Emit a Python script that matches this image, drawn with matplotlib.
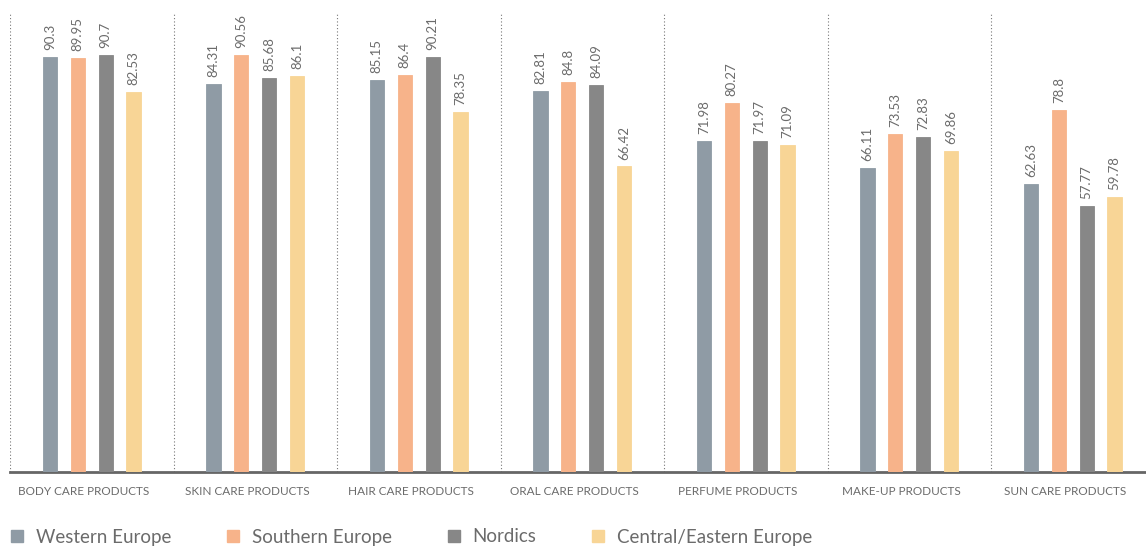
import numpy as np
import matplotlib
matplotlib.use("Agg")
import matplotlib.pyplot as plt
import matplotlib.transforms as mtransforms
from matplotlib.lines import Line2D

plt.rcParams['font.family'] = ['Lato', 'DejaVu Sans']

categories = ['BODY CARE PRODUCTS', 'SKIN CARE PRODUCTS', 'HAIR CARE PRODUCTS',
              'ORAL CARE PRODUCTS', 'PERFUME PRODUCTS', 'MAKE-UP PRODUCTS',
              'SUN CARE PRODUCTS']
series_names = ['Western Europe', 'Southern Europe', 'Nordics', 'Central/Eastern Europe']
western = [90.3, 84.31, 85.15, 82.81, 71.98, 66.11, 62.63]
southern = [89.95, 90.56, 86.4, 84.8, 80.27, 73.53, 78.8]
nordics = [90.7, 85.68, 90.21, 84.09, 71.97, 72.83, 57.77]
central = [82.53, 86.1, 78.35, 66.42, 71.09, 69.86, 59.78]
colors = ['#8f9ba5', '#f7b38a', '#878787', '#f8d596']

text_col = '#6b6b6b'

fig = plt.figure(figsize=(11.46, 5.46), dpi=100)
ax = fig.add_axes([10 / 1146, 74 / 546, 1136 / 1146, 460 / 546])

x = np.arange(len(categories))
spacing = 0.171
width = 0.088
all_series = [western, southern, nordics, central]
for i, (vals, col) in enumerate(zip(all_series, colors)):
    pos = x + (i - 1.5) * spacing
    ax.bar(pos, vals, width=width, color=col, edgecolor=col, linewidth=0.6,
           zorder=3)
    for px, v in zip(pos, vals):
        ax.annotate(f'{v:g}', (px, v), xytext=(0, 5), textcoords='offset points',
                    rotation=90, ha='center', va='bottom', fontsize=9.5,
                    color=text_col)

# dotted group separators
for b in np.arange(len(categories)) - 0.5:
    ax.axvline(b, color='#777777', linestyle=(0, (1, 2)), linewidth=0.8, zorder=1)

ax.set_xlim(-0.5, -0.5 + 1136 / 163.5)
ax.set_ylim(0, 100)
ax.set_xticks(x)
ax.set_xticklabels(categories, fontsize=8.5, color=text_col)
ax.tick_params(axis='x', length=0, pad=10)
# labels sit a little left of the group centre
shift = mtransforms.ScaledTranslation(-8 / 100, 0, fig.dpi_scale_trans)
for lbl in ax.get_xticklabels():
    lbl.set_transform(lbl.get_transform() + shift)
ax.set_yticks([])
for s in ['top', 'right', 'left']:
    ax.spines[s].set_visible(False)
ax.spines['bottom'].set_color('#666666')
ax.spines['bottom'].set_linewidth(2)

handles = [Line2D([], [], marker='s', linestyle='none', markersize=9,
                  markerfacecolor=c, markeredgecolor=c) for c in colors]
leg = fig.legend(handles, series_names, loc='center left', ncol=4,
                 bbox_to_anchor=(0.0, 9 / 546), frameon=False, fontsize=13.5,
                 handletextpad=0.5, columnspacing=2.8, handlelength=1.0,
                 borderaxespad=0)
for t in leg.get_texts():
    t.set_color(text_col)

fig.savefig('out.png', dpi=100)
